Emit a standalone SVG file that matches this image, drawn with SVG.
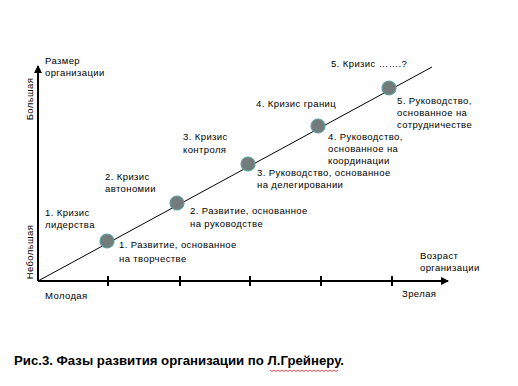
<svg xmlns="http://www.w3.org/2000/svg" width="518" height="386" viewBox="0 0 518 386">
<style>
.t{font-family:"Liberation Sans",Arial,sans-serif;font-size:9.5px;letter-spacing:0.4px;fill:#000}
.cap{font-family:"Liberation Sans",Arial,sans-serif;font-size:13px;font-weight:bold;fill:#000}
.ax{stroke:#000;stroke-width:2;fill:none}
.tick{stroke:#000;stroke-width:2}
.node{fill:#737b7b;stroke:#5f9f9f;stroke-width:1.2}
</style>
<defs>
<marker id="arr" markerWidth="8" markerHeight="8" refX="7" refY="4" orient="auto" markerUnits="userSpaceOnUse">
<path d="M0,0 L8,4 L0,8 z" fill="#000"/>
</marker>
</defs>
<rect width="518" height="386" fill="#fff"/>
<g id="connectors">
<line class="ax" x1="38" y1="281" x2="38" y2="66" marker-end="url(#arr)"/>
<line class="ax" x1="38" y1="281" x2="448" y2="281" marker-end="url(#arr)"/>
<line x1="38" y1="281" x2="432" y2="67" stroke="#000" stroke-width="1"/>
<g class="tick">
<line x1="108" y1="276" x2="108" y2="286"/>
<line x1="180" y1="276" x2="180" y2="286"/>
<line x1="250" y1="276" x2="250" y2="286"/>
<line x1="321" y1="276" x2="321" y2="286"/>
<line x1="392" y1="276" x2="392" y2="286"/>
</g>
</g>
<g id="axis-labels">
<text class="t" x="45" y="64">Размер</text>
<text class="t" x="45" y="76">организации</text>
<text class="t" transform="translate(33,99) rotate(-90)" text-anchor="middle">Большая</text>
<text class="t" transform="translate(33,252) rotate(-90)" text-anchor="middle">Небольшая</text>
<text class="t" x="45" y="299">Молодая</text>
<text class="t" x="402" y="297">Зрелая</text>
<text class="t" x="420" y="259">Возраст</text>
<text class="t" x="420" y="271">организации</text>
</g>
<g id="node1">
<circle class="node" cx="107" cy="241" r="7"/>
<text class="t" x="119" y="248">1. Развитие, основанное</text>
<text class="t" x="119" y="262">на творчестве</text>
</g>
<g id="crisis1">
<text class="t" x="45" y="216">1. Кризис</text>
<text class="t" x="45" y="228">лидерства</text>
</g>
<g id="node2">
<circle class="node" cx="177" cy="203" r="7"/>
<text class="t" x="190" y="214">2. Развитие, основанное</text>
<text class="t" x="190" y="227">на руководстве</text>
</g>
<g id="crisis2">
<text class="t" x="105" y="180">2. Кризис</text>
<text class="t" x="105" y="192">автономии</text>
</g>
<g id="node3">
<circle class="node" cx="248" cy="164" r="7"/>
<text class="t" x="257" y="176">3. Руководство, основанное</text>
<text class="t" x="257" y="188">на делегировании</text>
</g>
<g id="crisis3">
<text class="t" x="183" y="140">3. Кризис</text>
<text class="t" x="183" y="153">контроля</text>
</g>
<g id="node4">
<circle class="node" cx="318" cy="126" r="7"/>
<text class="t" x="328" y="140">4. Руководство,</text>
<text class="t" x="328" y="152">основанное на</text>
<text class="t" x="328" y="164">координации</text>
</g>
<g id="crisis4">
<text class="t" x="256" y="107">4. Кризис границ</text>
</g>
<g id="node5">
<circle class="node" cx="389" cy="88" r="7"/>
<text class="t" x="397" y="104">5. Руководство,</text>
<text class="t" x="397" y="116">основанное на</text>
<text class="t" x="397" y="128">сотрудничестве</text>
</g>
<g id="crisis5">
<text class="t" x="331" y="67">5. Кризис …….?</text>
</g>
<g id="caption">
<text class="cap" x="14" y="365" textLength="330" lengthAdjust="spacingAndGlyphs">Рис.3. Фазы развития организации по Л.Грейнеру.</text>
<path d="M270,370 l2,1.5 l2,-1.5 l2,1.5 l2,-1.5 l2,1.5 l2,-1.5 l2,1.5 l2,-1.5 l2,1.5 l2,-1.5 l2,1.5 l2,-1.5 l2,1.5 l2,-1.5 l2,1.5 l2,-1.5 l2,1.5 l2,-1.5 l2,1.5 l2,-1.5 l2,1.5 l2,-1.5 l2,1.5 l2,-1.5 l2,1.5 l2,-1.5 l2,1.5 l2,-1.5 l2,1.5 l2,-1.5 l2,1.5 l2,-1.5 l2,1.5 l2,-1.5" fill="none" stroke="#e02020" stroke-width="0.8"/>
</g>
</svg>
